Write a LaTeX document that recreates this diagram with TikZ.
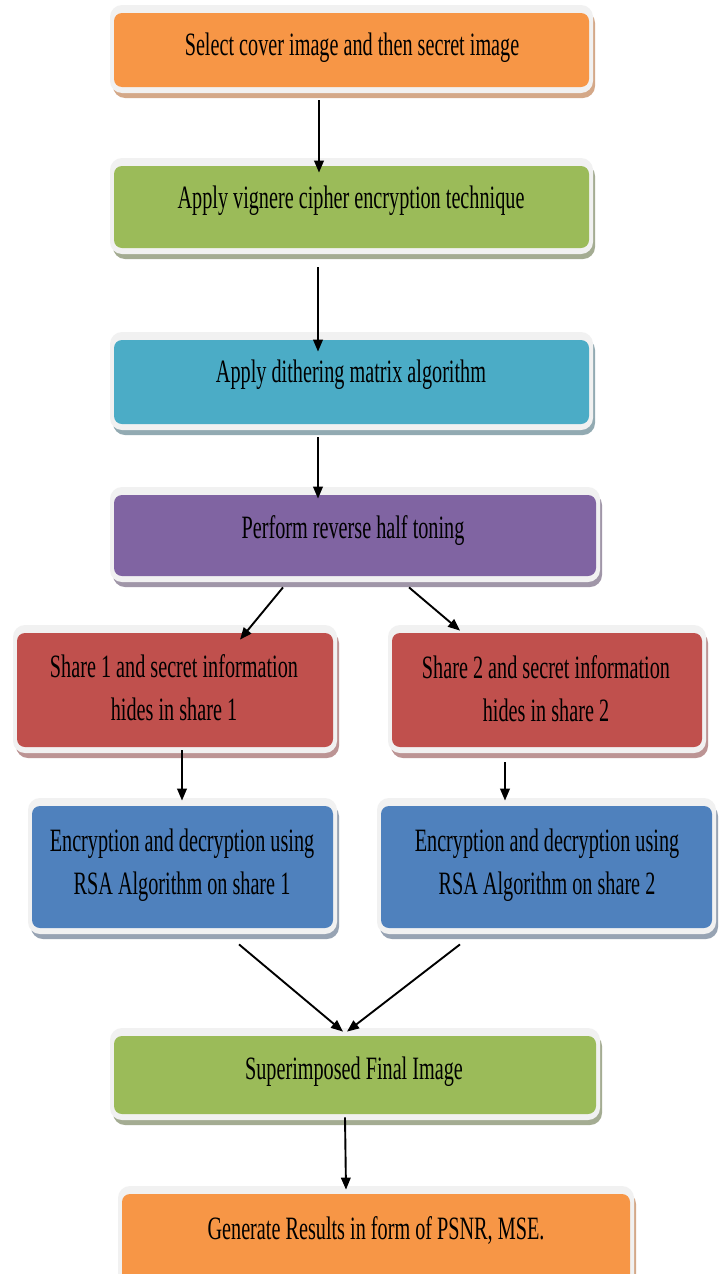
\documentclass[tikz,border=0pt]{standalone}
\usepackage{fontspec}
\setmainfont{Liberation Serif}[FakeStretch=0.62]
\usetikzlibrary{arrows.meta,fit}
\definecolor{cOrange}{HTML}{F79646}
\definecolor{cGreen}{HTML}{9BBB59}
\definecolor{cTeal}{HTML}{4BACC6}
\definecolor{cPurple}{HTML}{8064A2}
\definecolor{cRed}{HTML}{C0504D}
\definecolor{cBlue}{HTML}{4F81BD}
\definecolor{sOrange}{HTML}{D4A888}
\definecolor{sGreen}{HTML}{A4AC92}
\definecolor{sTeal}{HTML}{92AAB2}
\definecolor{sPurple}{HTML}{A096A8}
\definecolor{sRed}{HTML}{BC9494}
\definecolor{sBlue}{HTML}{97A3B3}
\definecolor{cFrame}{HTML}{F1F1F1}
\tikzset{
  innerbox/.style={inner sep=0pt, rounded corners=4pt, draw=none},
  lbl/.style={inner sep=0pt, align=center, text=black, font=\fontsize{16.3pt}{21.5pt}\selectfont},
  arr/.style={-{Triangle[length=6pt,width=4.8pt]}, line width=0.95pt, black},
}
% #1 name, #2 x1, #3 y1, #4 x2, #5 y2, #6 fill, #7 shadow
\newcommand\flowbox[7]{%
  \fill[#7, rounded corners=6pt] (#2-1,#3-2) rectangle (#4+6,#5+11);
  \fill[cFrame, rounded corners=6pt] (#2-4,#3-8) rectangle (#4+4,#5+6);
  \node[innerbox, fill=#6, fit={(#2,#3) (#4,#5)}] (#1) {};
}
\begin{document}
\begin{tikzpicture}[x=0.5pt,y=-0.5pt]
\clip (0,0) rectangle (720,1274);
\fill[white] (0,0) rectangle (720,1274);

\flowbox{b1}{114}{13}{589}{87}{cOrange}{sOrange}
\flowbox{b2}{114}{166}{589}{248}{cGreen}{sGreen}
\flowbox{b3}{114}{340}{589}{424}{cTeal}{sTeal}
\flowbox{b4}{114}{495}{596}{576}{cPurple}{sPurple}
\flowbox{b5}{17}{633}{333}{747}{cRed}{sRed}
\flowbox{b6}{392}{633}{702}{747}{cRed}{sRed}
\flowbox{b7}{32}{806}{333}{928}{cBlue}{sBlue}
\flowbox{b8}{381}{806}{712}{928}{cBlue}{sBlue}
\flowbox{b9}{114}{1036}{596}{1114}{cGreen}{sGreen}
\flowbox{b10}{122}{1194}{630}{1290}{cOrange}{sOrange}

\node[lbl, anchor=base] (t1) at (352,55) {Select cover image and then secret image};
\node[lbl, anchor=base] (t2) at (351,208) {Apply vignere cipher encryption technique};
\node[lbl, anchor=base] (t3) at (351,382) {Apply dithering matrix algorithm};
\node[lbl, anchor=base] (t4) at (353,538) {Perform reverse half toning};
\node[lbl] (t5) at (174,688) {Share 1 and secret information\\hides in share 1};
\node[lbl] (t6) at (546,689) {Share 2 and secret information\\hides in share 2};
\node[lbl] (t7) at (182,865) {Encryption and decryption using\\RSA Algorithm on share 1};
\node[lbl] (t8) at (547,865) {Encryption and decryption using\\RSA Algorithm on share 2};
\node[lbl, anchor=base] (t9) at (354,1079) {Superimposed Final Image};
\node[lbl, anchor=base] (t10) at (376,1239) {Generate Results in form of PSNR, MSE.};

\draw[arr] ([shift={(-32.5,13)}]b1.south) -- ([shift={(-32.5,7)}]b2.north);
\draw[arr] ([shift={(-33.5,19)}]b2.south) -- ([shift={(-33.5,12)}]b3.north);
\draw[arr] ([shift={(-33.5,13)}]b3.south) -- ([shift={(-37,4)}]b4.north);
\draw[arr] ([shift={(-72,11)}]b4.south) -- ([shift={(65,7)}]b5.north);
\draw[arr] ([shift={(54,11)}]b4.south) -- ([shift={(-87,-2)}]b6.north);
\draw[arr] ([shift={(7,3)}]b5.south) -- ([shift={(-0.5,-5)}]b7.north);
\draw[arr] ([shift={(-42,15)}]b6.south) -- ([shift={(-41.5,-5)}]b8.north);
\draw[arr] ([shift={(56.5,16)}]b7.south) -- ([shift={(-12,-4)}]b9.north);
\draw[arr] ([shift={(-86.5,16)}]b8.south) -- ([shift={(-8,-4)}]b9.north);
\draw[arr] ([shift={(-10,3)}]b9.south) -- ([shift={(-30,-4)}]b10.north);
\end{tikzpicture}
\end{document}
